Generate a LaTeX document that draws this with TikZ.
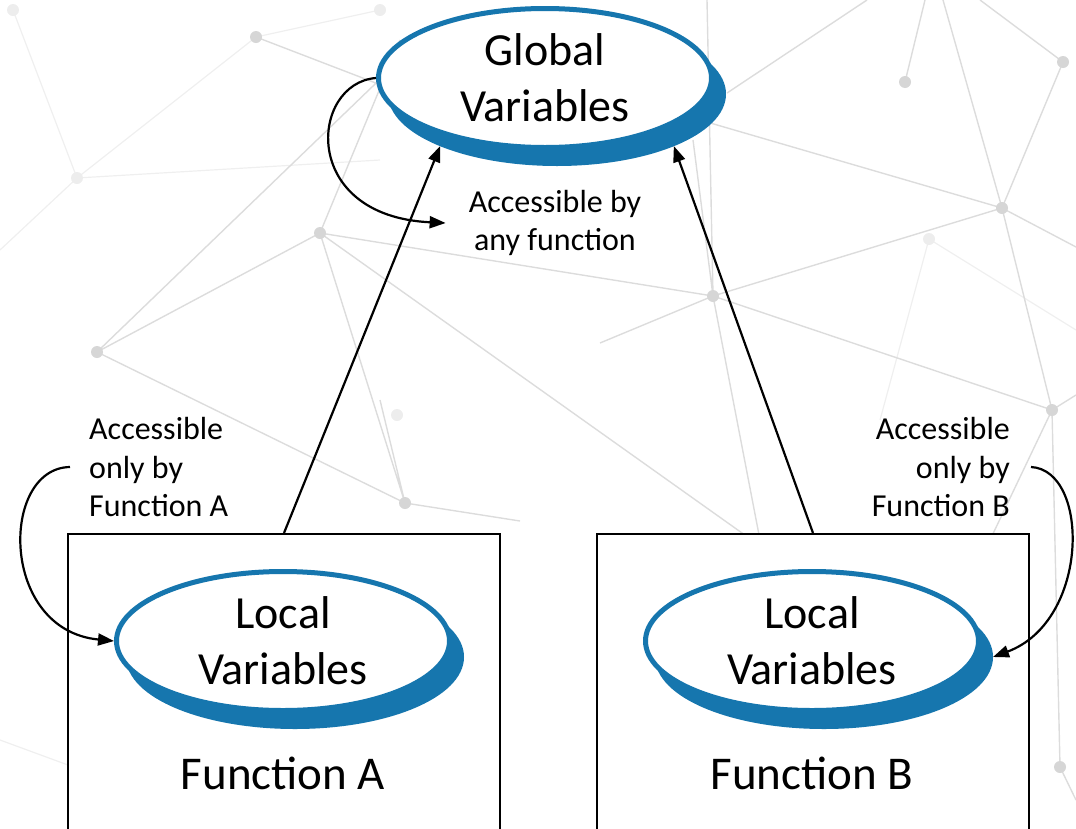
\documentclass[tikz,border=0pt]{standalone}
\usepackage{fontspec}
\setmainfont{Carlito}
\usetikzlibrary{positioning, arrows.meta, shapes.geometric}
\usepackage{xcolor}
\definecolor{varblue}{RGB}{22,118,174}
\definecolor{netgray}{RGB}{214,214,214}

\begin{document}
\begin{tikzpicture}[
        x=1pt, y=-1pt,
        netline/.style={draw=netgray!85, line width=1.4pt},
        netfaint/.style={draw=netgray!40, line width=1.2pt},
        netdot/.style={fill=netgray},
        varellipse/.style={ellipse, draw=varblue, fill=white, line width=5pt, minimum width=333pt, minimum height=139pt, inner sep=0pt, align=center, font=\fontsize{46}{56}\selectfont},
        varshadow/.style={ellipse, draw=varblue, fill=varblue, line width=5pt, minimum width=333pt, minimum height=139pt},
        funcbox/.style={rectangle, draw=black, fill=white, line width=1.7pt, minimum width=432pt, minimum height=330pt, anchor=north},
        funclabel/.style={font=\fontsize{47}{56}\selectfont, anchor=base},
        note/.style={font=\fontsize{32}{38.5}\selectfont, inner sep=3pt},
        arrow/.style={-{Triangle[length=16pt, width=12pt]}, line width=2.2pt}
    ]
        \useasboundingbox (0,0) rectangle (1076,828);

        % Background network
        \draw[netfaint] (13,10) -- (77,178) -- (0,250)
            (77,178) -- (380,160) (77,178) -- (256,37)
            (929,239) -- (1076,330) (929,239) -- (880,420)
            (0,740) -- (68,765) (380,10) -- (256,37);
        \draw[netline] (256,37) -- (420,100)
            (97,352) -- (320,233) -- (713,296) -- (1002,208) -- (1063,62) -- (980,0)
            (97,352) -- (400,60) (320,233) -- (400,40)
            (97,352) -- (405,503) -- (520,521) (320,233) -- (405,503)
            (320,233) -- (780,560)
            (713,296) -- (1052,410) -- (1060,767) -- (1076,800)
            (1002,208) -- (1052,410) (1002,208) -- (1076,247)
            (905,82) -- (925,0) (1002,208) -- (943,0)
            (713,296) -- (707,0) (713,296) -- (693,140)
            (727,93) -- (867,0) (700,120) -- (1002,208)
            (713,296) -- (600,343) (713,296) -- (760,540)
            (1052,410) -- (1076,395) (1052,410) -- (990,540)
            (405,503) -- (380,400);
        \fill[netgray!45] (13,10) circle (6) (77,178) circle (6) (380,10) circle (6)
            (397,415) circle (6) (929,239) circle (6);
        \fill[netdot] (256,37) circle (6) (97,352) circle (6) (320,233) circle (6)
            (405,503) circle (6) (713,296) circle (6) (905,82) circle (6)
            (1063,62) circle (6) (1002,208) circle (6) (1052,410) circle (6)
            (1060,767) circle (6);

        % Global variables
        \node[varshadow] (globshadow) at (557,94) {};
        \node[varellipse] (glob) at (545,78) {Global\\Variables};
        \node[note, align=center] (anynote) at (555,223) {Accessible by\\any function};

        % Functions
        \node[funcbox] (funcA) at (284,533) {};
        \node[funcbox] (funcB) at (813,533) {};

        % Local variables
        \node[varshadow] (locAshadow) at (295,657) {};
        \node[varellipse] (locA) at (283,641) {Local\\Variables};
        \node[varshadow] (locBshadow) at (824,657) {};
        \node[varellipse] (locB) at (812,641) {Local\\Variables};

        \node[funclabel] (labA) at (283,789) {Function A};
        \node[funclabel] (labB) at (812,789) {Function B};

        \node[note, anchor=west, align=left] (noteA) at (86,467) {Accessible\\only by\\Function A};
        \node[note, anchor=east, align=right] (noteB) at (1013,467) {Accessible\\only by\\Function B};

        % Access arrows
        \draw[arrow] (funcA.north) -- (globshadow.-156);
        \draw[arrow] (funcB.north) -- (globshadow.-24);
        \draw[arrow] (glob.west) .. controls +(-66,5) and +(-147,-7) .. ([xshift=-20pt]anynote.west);
        \draw[arrow] ([xshift=-16pt]noteA.west) .. controls +(-70,1) and +(-115,-11) .. (locA.west);
        \draw[arrow] ([xshift=18pt]noteB.east) .. controls +(59,3) and +(97,-36) .. (locBshadow.east);
    \end{tikzpicture}
\end{document}
